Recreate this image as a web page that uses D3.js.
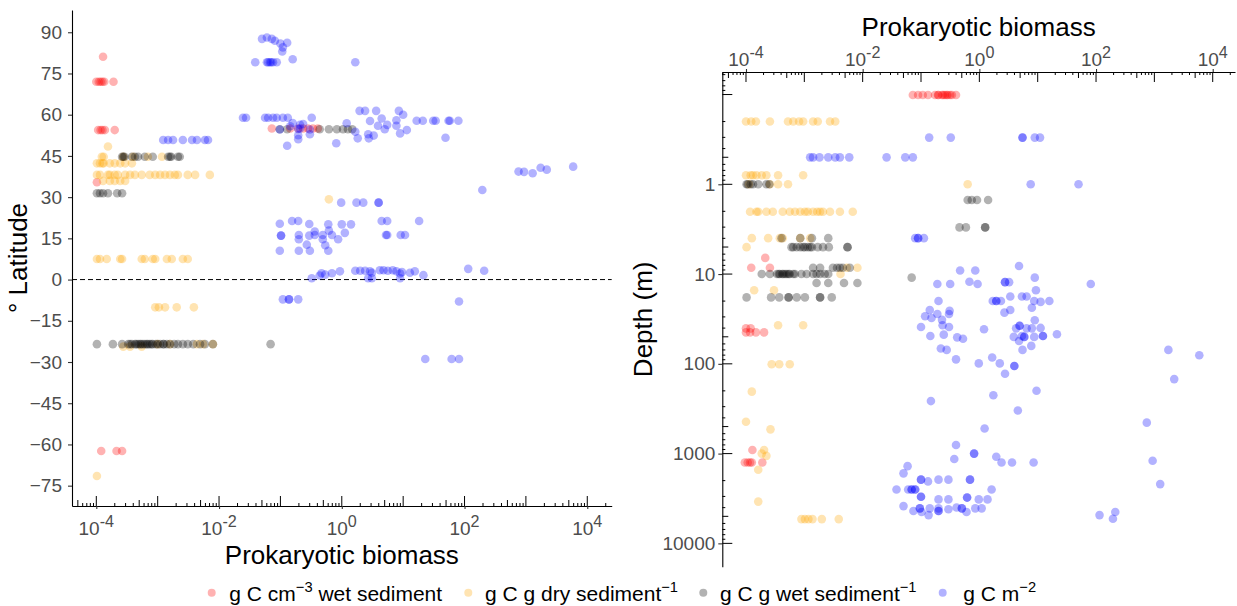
<!DOCTYPE html>
<html>
<head>
<meta charset="utf-8">
<script src="https://cdn.jsdelivr.net/npm/d3@7"></script>
<style>
  body { margin: 0; background: #fff; }
  text { font-family: "Liberation Sans", Arial, sans-serif; }
</style>
</head>
<body>
<svg id="chart" width="1237" height="606"></svg>
<script>
// biomass vs latitude / depth, four unit groups
// values: [log10 biomass, latitude] and [log10 biomass, log10 depth (m)]

var latWetVolume = [
  [-3.89, 81.1],
  [-4.00, 72.0], [-3.96, 72.0], [-3.93, 72.0], [-3.90, 72.0], [-3.87, 72.0], [-3.72, 72.0],
  [-3.97, 54.4], [-3.93, 54.4], [-3.90, 54.4], [-3.86, 54.4], [-3.70, 54.4],
  [-3.99, 35.4],
  [-1.14, 55.0], [-0.84, 55.0], [-0.71, 55.0], [-0.63, 55.0], [-0.55, 55.0], [-0.47, 55.0], [-0.39, 55.0],
  [-3.92, -62.4], [-3.67, -62.4], [-3.58, -62.4]
];

var latDryMass = [
  [-3.81, 48.4],
  [-3.91, 44.7], [-3.88, 44.7], [-3.56, 44.7], [-3.40, 44.7], [-3.16, 44.7], [-2.93, 44.7],
  [-3.99, 42.3], [-3.94, 42.3], [-3.90, 42.3], [-3.88, 42.3], [-3.78, 42.3], [-3.70, 42.3], [-3.61, 42.3], [-3.53, 42.3], [-3.42, 42.3],
  [-3.99, 38.1], [-3.94, 38.1], [-3.81, 38.1], [-3.78, 38.1], [-3.70, 38.1], [-3.65, 38.1], [-3.53, 38.1], [-3.45, 38.1],
  [-3.37, 38.1], [-3.26, 38.1], [-3.13, 38.1], [-3.04, 38.1], [-2.96, 38.1], [-2.88, 38.1], [-2.80, 38.1], [-2.72, 38.1],
  [-2.67, 38.1], [-2.51, 38.1], [-2.39, 38.1], [-2.15, 38.1],
  [-3.89, 35.9], [-3.78, 35.9], [-3.70, 35.9], [-3.61, 35.9], [-3.53, 35.9],
  [-3.99, 7.5], [-3.94, 7.5], [-3.83, 7.5], [-3.61, 7.5], [-3.58, 7.5], [-3.26, 7.5], [-3.21, 7.5], [-3.08, 7.5],
  [-3.04, 7.5], [-2.85, 7.5], [-2.77, 7.5], [-2.59, 7.5], [-2.51, 7.5],
  [-3.04, -10.1], [-2.98, -10.1], [-2.88, -10.1], [-2.69, -10.1], [-2.41, -10.1],
  [-3.56, -24.4], [-3.45, -24.4], [-3.26, -24.4], [-3.00, -23.5], [-2.80, -23.5], [-2.36, -23.5], [-2.26, -23.5], [-2.10, -23.5],
  [-3.99, -71.5],
  [-0.21, 29.2]
];

var latWetMass = [
  [-3.58, 44.7], [-3.56, 44.7], [-3.54, 44.7], [-3.42, 44.7], [-3.37, 44.7], [-3.32, 44.7], [-3.21, 44.7], [-3.08, 44.7],
  [-2.83, 44.7], [-2.80, 44.7], [-2.78, 44.7], [-2.67, 44.7], [-2.64, 44.7],
  [-3.99, 31.4], [-3.94, 31.4], [-3.89, 31.4], [-3.81, 31.4], [-3.66, 31.4], [-3.58, 31.4],
  [-3.99, -23.5], [-3.73, -23.5], [-3.58, -23.5], [-3.48, -23.5], [-3.45, -23.5], [-3.42, -23.5], [-3.37, -23.5], [-3.35, -23.5],
  [-3.32, -23.5], [-3.29, -23.5], [-3.27, -23.5], [-3.24, -23.5], [-3.21, -23.5], [-3.18, -23.5], [-3.16, -23.5], [-3.13, -23.5],
  [-3.10, -23.5], [-3.08, -23.5], [-3.03, -23.5], [-3.00, -23.5], [-2.96, -23.5], [-2.91, -23.5], [-2.90, -23.5], [-2.85, -23.5],
  [-2.80, -23.5], [-2.73, -23.5], [-2.67, -23.5], [-2.59, -23.5], [-2.51, -23.5], [-2.42, -23.5], [-2.31, -23.5], [-2.23, -23.5],
  [-2.10, -23.5], [-1.16, -23.5],
  [-1.01, 54.7], [-0.89, 54.7], [-0.36, 54.7], [-0.21, 54.7], [-0.08, 54.7], [0.02, 54.7], [0.10, 54.7], [0.17, 54.7]
];

var latArea = [
  [-1.30, 87.6], [-1.22, 88.1], [-1.14, 87.6], [-1.09, 86.9], [-1.00, 85.9], [-0.89, 86.2],
  [-0.97, 83.0], [-0.96, 84.5], [-0.80, 80.2],
  [-1.41, 79.1], [-1.22, 79.1], [-1.20, 79.1], [-1.17, 79.1], [-1.15, 79.1], [-1.12, 79.1], [-1.06, 79.1], [0.22, 79.1],
  [-1.61, 58.9], [-1.56, 58.9], [-1.25, 58.9], [-1.20, 58.9], [-1.12, 58.9], [-1.06, 58.9], [-0.96, 58.9], [-0.88, 58.9], [-0.49, 58.9],
  [-1.01, 54.6], [-0.84, 55.8], [-0.80, 57.0], [-0.71, 54.8], [-0.68, 56.3], [-0.52, 54.6], [-0.52, 52.9], [-0.71, 52.5],
  [-0.71, 51.1], [-0.89, 48.7], [-0.68, 55.0], [-0.63, 56.6], [-0.09, 49.6], [0.08, 56.9], [0.22, 53.8], [0.26, 51.4],
  [0.29, 61.4], [0.38, 61.4], [0.56, 61.4], [0.43, 52.9], [0.44, 51.4], [0.52, 52.4], [0.46, 57.7], [0.59, 56.0],
  [0.65, 58.6], [0.70, 54.7], [0.74, 56.3], [0.89, 58.0], [0.89, 56.0], [0.93, 61.4], [1.00, 60.0], [0.95, 53.2],
  [1.06, 54.4], [1.22, 57.8], [1.32, 57.8], [1.49, 57.8], [1.53, 57.8], [1.74, 57.8], [1.76, 57.8], [1.90, 57.8], [1.69, 51.6],
  [-2.91, 50.8], [-2.83, 50.8], [-2.75, 50.8], [-2.59, 50.8], [-2.44, 50.8], [-2.36, 50.8], [-2.23, 50.8], [-2.18, 50.8],
  [2.88, 39.3], [2.97, 39.2], [3.11, 38.7], [3.24, 40.7], [3.34, 40.0], [3.77, 41.1],
  [2.29, 32.6],
  [-0.01, 28.0], [0.24, 28.0], [0.35, 28.0], [0.60, 28.0], [0.60, 28.0],
  [-1.01, 20.3], [-0.81, 21.3], [-0.71, 21.3], [-0.53, 20.2], [-0.22, 20.1], [0.00, 20.1], [0.15, 20.1], [0.65, 21.3], [0.74, 21.3], [1.26, 21.3],
  [-0.99, 16.0], [-0.99, 16.0], [-0.70, 16.2], [-0.70, 14.7], [-0.53, 16.0], [-0.44, 17.5], [-0.44, 16.2], [-0.31, 16.2],
  [-0.31, 14.7], [-0.21, 17.8], [-0.16, 16.2], [-0.06, 14.7], [0.05, 17.0], [0.72, 16.2], [0.74, 16.2], [0.96, 16.2], [1.03, 16.2],
  [-1.01, 10.5], [-0.70, 10.5], [-0.57, 12.7], [-0.52, 10.5], [-0.27, 12.5], [-0.22, 10.5],
  [-0.33, 2.3], [-0.27, 1.8], [-0.16, 2.3], [-0.03, 3.0], [0.22, 3.2], [0.30, 3.2], [0.38, 3.2], [0.46, 3.0], [0.49, 2.5],
  [0.62, 3.4], [0.68, 3.4], [0.75, 3.2], [0.83, 3.4], [0.89, 3.0], [0.95, 2.2], [0.98, 2.7], [1.11, 2.5], [1.19, 3.0],
  [1.33, 1.6], [2.06, 3.9], [2.32, 3.2],
  [-0.49, 0.5], [-0.36, 1.5], [0.43, 0.5], [0.49, 0.5], [0.95, 0.5],
  [-0.96, -7.2], [-0.86, -7.2], [-0.86, -7.2], [-0.71, -7.2], [1.91, -8.0],
  [1.36, -28.9], [1.79, -28.9], [1.91, -28.9]
];

var depthWetVolume = [
  [-1.14, -0.995], [-1.05, -0.995], [-0.97, -0.995], [-0.88, -0.995], [-0.76, -0.995], [-0.71, -0.995], [-0.70, -0.995],
  [-0.64, -0.995], [-0.62, -0.995], [-0.59, -0.995], [-0.56, -0.995], [-0.54, -0.995], [-0.50, -0.995], [-0.47, -0.995], [-0.40, -0.995],
  [-3.91, 0.93], [-3.67, 0.82], [-3.59, 0.93],
  [-4.00, 1.605], [-3.92, 1.605], [-4.00, 1.65], [-3.93, 1.65], [-3.83, 1.65], [-3.69, 1.65],
  [-3.89, 2.96], [-4.02, 3.10], [-3.97, 3.10], [-3.93, 3.10], [-3.90, 3.10], [-3.72, 3.10]
];

var depthDryMass = [
  [-4.00, -0.70], [-3.91, -0.70], [-3.83, -0.70], [-3.59, -0.70], [-3.28, -0.70], [-3.19, -0.70], [-3.09, -0.70], [-3.02, -0.70],
  [-2.85, -0.70], [-2.77, -0.70], [-2.56, -0.70], [-2.47, -0.70],
  [-4.00, -0.10], [-3.92, -0.10], [-3.88, -0.10], [-3.82, -0.10], [-3.73, -0.10], [-3.65, -0.10], [-3.45, -0.10], [-3.02, -0.10],
  [-3.95, 0.00], [-3.59, 0.00], [-3.45, 0.00], [-3.28, 0.00], [-0.20, 0.00],
  [-3.93, 0.305], [-3.82, 0.305], [-3.79, 0.305], [-3.65, 0.305], [-3.54, 0.305], [-3.37, 0.305], [-3.25, 0.305], [-3.16, 0.305],
  [-3.07, 0.305], [-2.99, 0.305], [-2.94, 0.305], [-2.85, 0.305], [-2.78, 0.305], [-2.73, 0.305], [-2.68, 0.305], [-2.56, 0.305],
  [-2.39, 0.305], [-2.17, 0.305],
  [-3.90, 0.60], [-3.62, 0.60], [-3.42, 0.60], [-3.37, 0.60], [-3.07, 0.60], [-2.90, 0.60],
  [-3.99, 0.70],
  [-2.27, 0.93], [-2.09, 0.93], [-2.38, 1.00],
  [-3.86, 1.18], [-3.52, 1.18],
  [-3.45, 1.57], [-3.02, 1.57],
  [-3.56, 2.005], [-3.43, 2.005], [-3.25, 2.005],
  [-3.90, 2.31], [-4.00, 2.645], [-3.58, 2.73],
  [-3.69, 2.96], [-3.73, 3.00], [-3.65, 3.025],
  [-3.79, 3.18], [-3.79, 3.535],
  [-3.05, 3.73], [-2.99, 3.73], [-2.93, 3.73], [-2.86, 3.73], [-2.70, 3.73], [-2.41, 3.73]
];

var depthWetMass = [
  [-3.99, 0.00], [-3.97, 0.00], [-3.92, 0.00], [-3.88, 0.00], [-3.79, 0.00], [-3.65, 0.00], [-3.60, 0.00],
  [-3.39, 0.60], [-3.07, 0.60], [-2.87, 0.60], [-2.59, 0.60],
  [-3.22, 0.70], [-3.19, 0.70], [-3.13, 0.70], [-3.07, 0.70], [-3.02, 0.70], [-2.99, 0.70], [-2.94, 0.70], [-2.90, 0.70],
  [-2.87, 0.70], [-2.77, 0.70], [-2.68, 0.70], [-2.58, 0.70], [-2.26, 0.70], [-2.26, 0.70],
  [-2.85, 0.93], [-2.73, 0.93], [-2.51, 0.93], [-2.44, 0.93], [-2.39, 0.93], [-2.34, 0.93], [-2.22, 0.93],
  [-3.73, 1.00], [-3.59, 1.00], [-3.47, 1.00], [-3.44, 1.00], [-3.42, 1.00], [-3.38, 1.00], [-3.36, 1.00], [-3.33, 1.00],
  [-3.30, 1.00], [-3.27, 1.00], [-3.25, 1.00], [-3.19, 1.00], [-3.16, 1.00], [-3.05, 1.00], [-2.96, 1.00], [-2.85, 1.00],
  [-2.79, 1.00], [-2.73, 1.00], [-2.65, 1.00], [-2.59, 1.00],
  [-1.16, 1.04],
  [-2.79, 1.10], [-2.59, 1.10], [-2.32, 1.10], [-2.09, 1.10],
  [-3.99, 1.26], [-3.57, 1.26], [-3.43, 1.26], [-3.27, 1.26], [-3.27, 1.26], [-3.13, 1.26], [-2.99, 1.26], [-2.73, 1.26],
  [-2.73, 1.26], [-2.53, 1.26],
  [-0.20, 0.175], [-0.13, 0.175], [-0.04, 0.175], [0.15, 0.175],
  [-0.34, 0.48], [-0.23, 0.48], [0.10, 0.48], [0.10, 0.48]
];

var depthArea = [
  [-0.86, -0.52], [-0.49, -0.52], [0.74, -0.52], [0.74, -0.52], [0.95, -0.52], [1.04, -0.52],
  [-2.90, -0.30], [-2.85, -0.30], [-2.74, -0.30], [-2.59, -0.30], [-2.47, -0.30], [-2.39, -0.30], [-2.23, -0.30],
  [-1.59, -0.30], [-1.27, -0.30], [-1.14, -0.30],
  [0.88, 0.00], [1.70, 0.00],
  [-1.10, 0.60], [-1.05, 0.60], [-1.05, 0.60], [-0.95, 0.60],
  [-0.72, 1.11],
  [-0.33, 0.96], [-0.07, 0.96], [0.68, 0.91], [0.95, 1.04], [-0.50, 1.11], [-0.17, 1.085], [-0.03, 1.11],
  [0.44, 1.09], [0.44, 1.09], [0.51, 1.09], [1.91, 1.11], [0.97, 1.18], [0.53, 1.25], [0.73, 1.25], [0.81, 1.25],
  [-0.70, 1.30], [-0.85, 1.40], [-0.93, 1.47], [-0.82, 1.49], [-0.72, 1.445], [-0.51, 1.41], [-0.52, 1.445], [-0.64, 1.51],
  [-0.63, 1.57], [-0.52, 1.59], [-1.00, 1.59], [-0.84, 1.69], [-0.61, 1.675], [-0.38, 1.705], [-0.28, 1.72], [-0.66, 1.83],
  [-0.56, 1.845], [-0.40, 1.95], [0.08, 1.615],
  [0.23, 1.30], [0.29, 1.30], [0.29, 1.30], [0.37, 1.30], [0.94, 1.30], [1.05, 1.31], [1.20, 1.30], [0.90, 1.375],
  [0.43, 1.43], [0.53, 1.40], [0.95, 1.515],
  [0.69, 1.575], [0.69, 1.575], [0.63, 1.605], [0.81, 1.605], [0.90, 1.605], [1.05, 1.60],
  [0.59, 1.70], [0.73, 1.69], [0.77, 1.70], [0.77, 1.70], [0.94, 1.70], [1.09, 1.69], [1.09, 1.69], [1.33, 1.67],
  [0.68, 1.745], [0.89, 1.80], [0.74, 1.845],
  [0.22, 1.93], [0.35, 1.995], [0.60, 2.025], [0.60, 2.025], [0.44, 2.11], [-0.01, 1.995],
  [0.24, 2.35], [-0.83, 2.415], [0.98, 2.30], [0.66, 2.52], [0.09, 2.72],
  [3.24, 1.845], [3.77, 1.905], [3.34, 2.17], [2.87, 2.655], [2.97, 3.08], [3.10, 3.34],
  [2.06, 3.685], [2.33, 3.65], [2.29, 3.725],
  [-0.40, 2.905], [-0.43, 3.06], [-0.09, 3.00], [-0.09, 3.00], [0.29, 3.035], [0.38, 3.10], [0.56, 3.10], [0.93, 3.10], [0.21, 3.40],
  [-1.23, 3.14], [-1.30, 3.22],
  [-1.00, 3.29], [-1.00, 3.29], [-0.88, 3.31], [-0.70, 3.29], [-0.53, 3.29], [-0.16, 3.29], [-0.16, 3.29],
  [-1.42, 3.40], [-1.22, 3.40], [-1.16, 3.40], [-1.16, 3.40], [-1.10, 3.40], [-1.10, 3.40],
  [-1.00, 3.48], [-1.00, 3.48], [-0.70, 3.51], [-0.53, 3.51], [-0.21, 3.49], [-0.21, 3.49], [-0.01, 3.51], [0.14, 3.51],
  [-1.30, 3.585],
  [-1.13, 3.64], [-1.02, 3.61], [-1.02, 3.61], [-0.99, 3.65], [-0.87, 3.685], [-0.85, 3.61], [-0.70, 3.64], [-0.70, 3.64],
  [-0.70, 3.61], [-0.53, 3.62], [-0.39, 3.60], [-0.30, 3.61], [-0.30, 3.61], [-0.22, 3.65], [-0.07, 3.61], [0.04, 3.61]
];

var xTickValues = [1e-4, 1e-2, 1, 1e2, 1e4];
var latTickValues = [-75, -60, -45, -30, -15, 0, 15, 30, 45, 60, 75, 90];
var depthTickValues = [1, 10, 100, 1000, 10000];

var seriesColours = ["#ff0000", "#ffa500", "#000000", "#0000ff"];
var legendLabels = [
  ["g C cm", "\u22123", " wet sediment"],
  ["g C g dry sediment", "\u22121", ""],
  ["g C g wet sediment", "\u22121", ""],
  ["g C m", "\u22122", ""]
];

var tickFont = 19, titleFont = 26, legendFont = 21;
var alpha = 0.3, radius = 4.3;

var svg = d3.select("#chart");

// left panel: latitude
var lp = {left: 72, right: 611.7, top: 10, bottom: 506};
var xL = d3.scaleLog().domain([Math.pow(10, -4.396), Math.pow(10, 4.398)]).range([lp.left, lp.right]);
var yL = d3.scaleLinear().domain([-82.4, 98.1]).range([lp.bottom, lp.top]);

// right panel: depth (reversed log)
var rp = {left: 722.3, right: 1235, top: 72, bottom: 566.7};
var xR = d3.scaleLog().domain([Math.pow(10, -4.406), Math.pow(10, 4.382)]).range([rp.left, rp.right]);
var yR = d3.scaleLog().domain([Math.pow(10, -1.251), Math.pow(10, 4.26)]).range([rp.top, rp.bottom]);

function logTicks(scale) {
  var dom = scale.domain(), out = [];
  for (var k = Math.floor(Math.log10(dom[0])); k <= Math.ceil(Math.log10(dom[1])); k++) {
    for (var m = 1; m <= 9; m++) {
      var v = m * Math.pow(10, k);
      if (v >= dom[0] && v <= dom[1]) out.push({v: v, len: m === 1 ? 10 : (m === 5 ? 6 : 3)});
    }
  }
  return out;
}

function styleAxis(g) {
  g.attr("font-family", null).attr("font-size", null);
  g.select(".domain").attr("stroke", "#000").attr("stroke-width", 1.1);
  g.selectAll(".tick line").attr("stroke", "#333").attr("stroke-width", 1.1);
}

function powerLabels(g, scale, y) {
  var t = g.selectAll(null).data(xTickValues).join("text")
      .attr("x", function(d) { return scale(d); })
      .attr("y", y)
      .attr("text-anchor", "middle")
      .attr("font-size", tickFont)
      .attr("fill", "#4d4d4d");
  t.append("tspan").text("10");
  t.append("tspan").attr("dy", -8).attr("font-size", tickFont * 0.85)
      .text(function(d) { return Math.round(Math.log10(d)); });
}

function drawPoints(data, colour, x, y, logY) {
  svg.append("g").selectAll("circle").data(data).join("circle")
      .attr("cx", function(d) { return x(Math.pow(10, d[0])); })
      .attr("cy", function(d) { return y(logY ? Math.pow(10, d[1]) : d[1]); })
      .attr("r", radius)
      .attr("fill", colour)
      .attr("fill-opacity", alpha);
}

// ---- left panel ----
svg.append("line")
    .attr("x1", lp.left).attr("x2", lp.right)
    .attr("y1", yL(0)).attr("y2", yL(0))
    .attr("stroke", "#000").attr("stroke-width", 1).attr("stroke-dasharray", "5,3");

[latWetVolume, latDryMass, latWetMass, latArea].forEach(function(s, i) {
  drawPoints(s, seriesColours[i], xL, yL, false);
});

var gxL = svg.append("g").attr("transform", "translate(0," + lp.bottom + ")")
    .call(d3.axisBottom(xL).tickValues(xTickValues).tickSize(3).tickSizeOuter(0).tickFormat(function() { return ""; }));
styleAxis(gxL);
gxL.selectAll(null).data(logTicks(xL)).join("line")
    .attr("x1", function(d) { return xL(d.v); }).attr("x2", function(d) { return xL(d.v); })
    .attr("y1", 0).attr("y2", function(d) { return -d.len; })
    .attr("stroke", "#000").attr("stroke-width", 1);
powerLabels(gxL, xL, 29);

var gyL = svg.append("g").attr("transform", "translate(" + lp.left + ",0)")
    .call(d3.axisLeft(yL).tickValues(latTickValues).tickSize(4).tickSizeOuter(0).tickPadding(6));
styleAxis(gyL);
gyL.selectAll(".tick text").attr("font-size", tickFont).attr("fill", "#4d4d4d");

svg.append("text")
    .attr("x", (lp.left + lp.right) / 2).attr("y", 564)
    .attr("text-anchor", "middle").attr("font-size", titleFont)
    .text("Prokaryotic biomass");

svg.append("text")
    .attr("transform", "translate(27," + (lp.top + lp.bottom) / 2 + ") rotate(-90)")
    .attr("text-anchor", "middle").attr("font-size", titleFont)
    .text("\u00b0 Latitude");

// ---- right panel ----
[depthWetVolume, depthDryMass, depthWetMass, depthArea].forEach(function(s, i) {
  drawPoints(s, seriesColours[i], xR, yR, true);
});

var gxR = svg.append("g").attr("transform", "translate(0," + rp.top + ")")
    .call(d3.axisTop(xR).tickValues(xTickValues).tickSize(3).tickSizeOuter(0).tickFormat(function() { return ""; }));
styleAxis(gxR);
gxR.selectAll(null).data(logTicks(xR)).join("line")
    .attr("x1", function(d) { return xR(d.v); }).attr("x2", function(d) { return xR(d.v); })
    .attr("y1", 0).attr("y2", function(d) { return d.len; })
    .attr("stroke", "#000").attr("stroke-width", 1);
powerLabels(gxR, xR, -6);

var gyR = svg.append("g").attr("transform", "translate(" + rp.left + ",0)")
    .call(d3.axisLeft(yR).tickValues(depthTickValues).tickSize(4).tickSizeOuter(0).tickPadding(3).tickFormat(d3.format("d")));
styleAxis(gyR);
gyR.selectAll(".tick text").attr("font-size", tickFont).attr("fill", "#4d4d4d");
gyR.selectAll(null).data(logTicks(yR)).join("line")
    .attr("y1", function(d) { return yR(d.v); }).attr("y2", function(d) { return yR(d.v); })
    .attr("x1", 0).attr("x2", function(d) { return d.len; })
    .attr("stroke", "#000").attr("stroke-width", 1);

svg.append("text")
    .attr("x", (rp.left + rp.right) / 2).attr("y", 36)
    .attr("text-anchor", "middle").attr("font-size", titleFont)
    .text("Prokaryotic biomass");

svg.append("text")
    .attr("transform", "translate(652," + (rp.top + rp.bottom) / 2 + ") rotate(-90)")
    .attr("text-anchor", "middle").attr("font-size", titleFont)
    .text("Depth (m)");

// ---- legend ----
var legendDotX = [211.7, 468.3, 703.3, 942.7];
var legendTextX = [229.3, 485, 720, 963.3];
var legend = svg.append("g");
legend.selectAll("circle").data(legendLabels).join("circle")
    .attr("cx", function(d, i) { return legendDotX[i]; })
    .attr("cy", 592.7)
    .attr("r", 4)
    .attr("fill", function(d, i) { return seriesColours[i]; })
    .attr("fill-opacity", alpha);
var lt = legend.selectAll("text").data(legendLabels).join("text")
    .attr("x", function(d, i) { return legendTextX[i]; })
    .attr("y", 601)
    .attr("font-size", legendFont);
lt.append("tspan").text(function(d) { return d[0]; });
lt.append("tspan").attr("dy", -9).attr("font-size", legendFont * 0.7).text(function(d) { return d[1]; });
lt.append("tspan").attr("dy", 9).text(function(d) { return d[2]; });
</script>
</body>
</html>
